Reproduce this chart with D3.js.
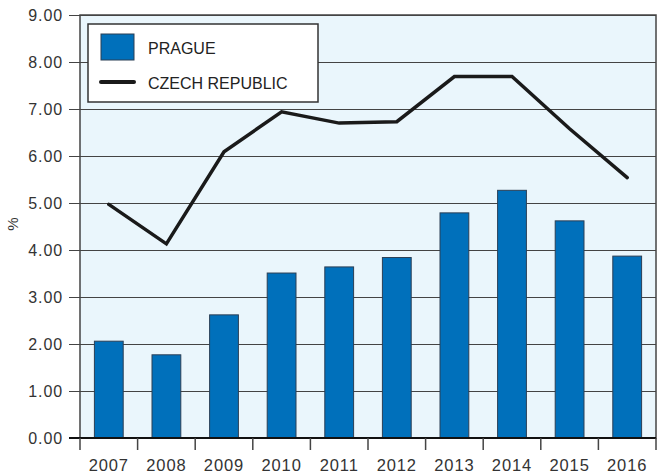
<!DOCTYPE html>
<html><head><meta charset="utf-8">
<script src="https://cdn.jsdelivr.net/npm/d3@7"></script>
<style>body{margin:0;background:#fff}svg{display:block}</style>
</head><body>
<script>
const years = ["2007","2008","2009","2010","2011","2012","2013","2014","2015","2016"];
const prague = [2.06, 1.77, 2.62, 3.51, 3.64, 3.84, 4.79, 5.27, 4.62, 3.87];
const czech = [4.97, 4.13, 6.09, 6.94, 6.70, 6.73, 7.69, 7.69, 6.58, 5.54];
const yTicks = [0,1,2,3,4,5,6,7,8,9];
const seriesNames = ["PRAGUE", "CZECH REPUBLIC"];

const W = 659, H = 473;
const m = {left: 80, right: 3, top: 15, bottom: 35};
const svg = d3.select("body").append("svg").attr("width", W).attr("height", H);
const x = d3.scaleBand().domain(years).range([m.left, W - m.right]).paddingInner(0.5).paddingOuter(0.25);
const xb = d3.scaleBand().domain(years).range([m.left, W - m.right]);
const y = d3.scaleLinear().domain([0, 9]).range([H - m.bottom, m.top]);
const font = "'Liberation Sans', Arial, sans-serif";

svg.append("rect").attr("x", m.left).attr("y", m.top)
  .attr("width", W - m.right - m.left).attr("height", y(0) - m.top)
  .attr("fill", "#eaf6fc");

// grid
svg.append("g").selectAll("line").data(yTicks.slice(1)).join("line")
  .attr("x1", m.left - 11).attr("x2", W - m.right)
  .attr("y1", d => Math.round(y(d)) + 0.5).attr("y2", d => Math.round(y(d)) + 0.5)
  .attr("stroke", "#444").attr("stroke-width", 1);

// bars
svg.append("g").selectAll("rect").data(years).join("rect")
  .attr("x", d => x(d)).attr("width", x.bandwidth())
  .attr("y", (d, i) => y(prague[i])).attr("height", (d, i) => y(0) - y(prague[i]))
  .attr("fill", "#0070bb").attr("stroke", "#2b3f55").attr("stroke-width", 1);

// line
const line = d3.line().x((d, i) => xb(years[i]) + xb.bandwidth() / 2).y(d => y(d));
svg.append("path").datum(czech).attr("d", line)
  .attr("fill", "none").attr("stroke", "#1a1a1a").attr("stroke-width", 3.5)
  .attr("stroke-linejoin", "miter").attr("stroke-linecap", "round");

// frame
svg.append("rect").attr("x", m.left).attr("y", m.top)
  .attr("width", W - m.right - m.left).attr("height", y(0) - m.top)
  .attr("fill", "none").attr("stroke", "#444").attr("stroke-width", 1.5);
svg.append("line").attr("x1", m.left - 11).attr("x2", W - m.right)
  .attr("y1", y(0)).attr("y2", y(0)).attr("stroke", "#111").attr("stroke-width", 2);

// y axis labels
svg.append("g").selectAll("text").data(yTicks).join("text")
  .attr("x", 63).attr("y", d => y(d) + 5.5).attr("text-anchor", "end")
  .attr("font-family", font).attr("font-size", 16).attr("letter-spacing", 0.9).attr("fill", "#333")
  .text(d => d3.format(".2f")(d));

// x ticks
const bounds = years.map(d => xb(d)).concat([W - m.right]);
svg.append("g").selectAll("line").data(bounds).join("line")
  .attr("x1", d => d).attr("x2", d => d).attr("y1", y(0)).attr("y2", y(0) + 12)
  .attr("stroke", "#444").attr("stroke-width", 1.5);
svg.append("g").selectAll("text").data(years).join("text")
  .attr("x", d => xb(d) + xb.bandwidth() / 2).attr("y", 471).attr("text-anchor", "middle")
  .attr("font-family", font).attr("font-size", 16.5).attr("letter-spacing", 0.9).attr("fill", "#333").text(d => d);

svg.append("text").attr("transform", "translate(18,224) rotate(-90)")
  .attr("text-anchor", "middle").attr("font-family", font).attr("font-size", 15).attr("fill", "#333").text("%");

// legend
const lg = svg.append("g");
lg.append("rect").attr("x", 88).attr("y", 24).attr("width", 230).attr("height", 78)
  .attr("fill", "#fff").attr("stroke", "#333").attr("stroke-width", 1.5);
lg.append("rect").attr("x", 101).attr("y", 34).attr("width", 33).attr("height", 26)
  .attr("fill", "#0070bb").attr("stroke", "#2b3f55").attr("stroke-width", 1);
lg.append("line").attr("x1", 101).attr("x2", 134).attr("y1", 82).attr("y2", 82)
  .attr("stroke", "#1a1a1a").attr("stroke-width", 4).attr("stroke-linecap", "round");
lg.selectAll("text").data(seriesNames).join("text")
  .attr("x", 148).attr("y", (d, i) => [54, 89][i])
  .attr("font-family", font).attr("font-size", 16).attr("fill", "#222").text(d => d);
</script>
</body></html>
